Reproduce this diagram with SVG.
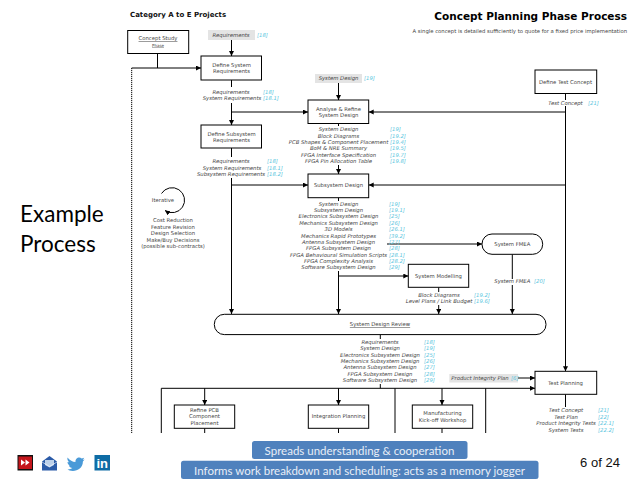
<svg xmlns="http://www.w3.org/2000/svg" width="638" height="479" viewBox="0 0 638 479">
<style>
text{font-family:"DejaVu Sans",Verdana,sans-serif;font-size:5.3px;fill:#444}
.m{text-anchor:middle}
.i{font-style:italic;text-anchor:middle}
.c{font-style:italic;fill:#5cc6de}
.b{fill:#fff;stroke:#000;stroke-width:1}
.g{fill:#e4e4e4}
.l{fill:none;stroke:#000;stroke-width:1}
.a{fill:none;stroke:#000;stroke-width:1;marker-end:url(#ah)}
.d{fill:none;stroke:#000;stroke-width:1;stroke-dasharray:1.2 .8}
.bar{fill:#4f81bd}
.t{font-family:"Lato","Open Sans",sans-serif;font-size:11.5px;fill:#e8eef7;text-anchor:middle}
</style>
<defs><marker id="ah" markerUnits="userSpaceOnUse" markerWidth="6" markerHeight="6" refX="5" refY="2.5" orient="auto"><path d="M0 0L5 2.5L0 5z" fill="#000"/></marker></defs>
<rect width="638" height="479" fill="#fff"/>
<text x="130" y="17" style="font-size:7px;font-weight:bold;fill:#111">Category A to E Projects</text>
<text x="627" y="20" text-anchor="end" style="font-size:10.5px;font-weight:bold;fill:#000">Concept Planning Phase Process</text>
<text x="627" y="33" text-anchor="end" style="font-size:5.3px">A single concept is detailed sufficiently to quote for a fixed price implementation</text>
<text x="20" y="222" style="font-family:Lato,sans-serif;font-size:22.500px;fill:#000">Example</text>
<text x="20" y="252" style="font-family:Lato,sans-serif;font-size:22.500px;fill:#000">Process</text>

<g id="connectors">
<path class="l" d="M157.500 53.500V68"/>
<path class="a" d="M131.700 68H201"/>
<path class="d" d="M131.700 68V433"/>
<path class="a" d="M231.500 40V56"/>
<path class="l" d="M231.500 80V87"/>
<path class="a" d="M231.500 103V125"/>
<path class="a" d="M231.500 112H308"/>
<path class="l" d="M231.500 148V157"/>
<path class="a" d="M231.500 178V314"/>
<path class="a" d="M231.500 185H308"/>
<path class="a" d="M338.500 83V100"/>
<path class="l" d="M338.500 123.500V126"/>
<path class="a" d="M338.500 165V174"/>
<path class="l" d="M338.500 197.700V201"/>
<path class="a" d="M338.500 271V314"/>
<path class="a" d="M338.500 276H408.300"/>
<path class="a" d="M387 244H482"/>
<path class="l" d="M438.700 287.300V292"/>
<path class="a" d="M438.700 305V314"/>
<path class="l" d="M512.300 254.300V279"/>
<path class="a" d="M512.300 285V314"/>
<path class="l" d="M565.500 93.500V100"/>
<path class="a" d="M565.500 106V371.300"/>
<path class="a" d="M565.500 112H368.700"/>
<path class="a" d="M565.500 185H368.700"/>
<path class="l" d="M380.300 334.600V339"/>
<path class="l" d="M380.300 384V388.300"/>
<path class="a" d="M161.300 388.300H535"/>
<path class="l" d="M161.300 388.300V433"/>
<path class="l" d="M395 388.300V433"/>
<path class="l" d="M485.700 388.300V433"/>
<path class="a" d="M204.700 388.300V405"/>
<path class="a" d="M338.500 388.300V405"/>
<path class="a" d="M442 388.300V405"/>
<path class="l" d="M204.700 428.300V433"/>
<path class="l" d="M338.500 428.300V433"/>
<path class="l" d="M442 428.300V433"/>
<path class="l" d="M565.500 394.300V407"/>
<path class="a" d="M518 378H535"/>
</g>

<g id="concept-study"><rect class="b" x="127.700" y="30.500" width="61" height="23"/><text class="m" x="158" y="40" style="text-decoration:underline">Concept Study</text><text class="m" x="158" y="46.500" style="font-size:4px;text-decoration:underline">Phase</text></g>
<g id="requirements-in"><rect class="g" x="208" y="30" width="47" height="10"/><text class="i" x="231" y="37">Requirements</text><text class="c" x="257" y="37">[18]</text></g>
<g id="define-system"><rect class="b" x="201" y="56" width="60.500" height="24"/><text class="m" x="231.500" y="67">Define System</text><text class="m" x="231.500" y="73">Requirements</text></g>
<g id="define-subsystem"><rect class="b" x="201" y="125" width="60.500" height="23"/><text class="m" x="231.500" y="135.500">Define Subsystem</text><text class="m" x="231.500" y="142">Requirements</text></g>
<g id="system-design-in"><rect class="g" x="315" y="74" width="47" height="9"/><text class="i" x="338.500" y="80">System Design</text><text class="c" x="364" y="80">[19]</text></g>
<g id="analyse"><rect class="b" x="308" y="100" width="60.700" height="23.500"/><text class="m" x="338.500" y="110.500">Analyse &amp; Refine</text><text class="m" x="338.500" y="117">System Design</text></g>
<g id="subsystem-design"><rect class="b" x="308" y="174" width="60.700" height="23.700"/><text class="m" x="338.500" y="187">Subsystem Design</text></g>
<g id="test-concept"><rect class="b" x="535" y="70" width="61.700" height="23.500"/><text class="m" x="565.500" y="83.500">Define Test Concept</text></g>
<g id="system-fmea"><rect class="b" x="482" y="234" width="60.700" height="20.300" rx="10"/><text class="m" x="512.300" y="245.800">System FMEA</text></g>
<g id="system-modelling"><rect class="b" x="408.300" y="264.300" width="60.400" height="23"/><text class="m" x="438.500" y="277.500">System Modelling</text></g>
<g id="review"><rect class="b" x="214.300" y="314.300" width="331.700" height="20.300" rx="10"/><text class="m" x="380" y="326" style="text-decoration:underline">System Design Review</text></g>
<g id="test-planning"><rect class="b" x="535" y="371.300" width="61.700" height="23"/><text class="m" x="565.500" y="384.500">Test Planning</text></g>
<g id="product-integrity"><rect class="g" x="449.300" y="374" width="68.700" height="8.500"/><text class="i" x="480" y="380">Product Integrity Plan</text><text class="c" x="511" y="380">[6]</text></g>
<g id="refine-pcb"><rect class="b" x="174.300" y="405" width="60.400" height="23.300"/><text class="m" x="204.500" y="411.500">Refine PCB</text><text class="m" x="204.500" y="418">Component</text><text class="m" x="204.500" y="425">Placement</text></g>
<g id="integration"><rect class="b" x="308.300" y="405" width="60.400" height="23.300"/><text class="m" x="338.500" y="418">Integration Planning</text></g>
<g id="manufacturing"><rect class="b" x="412.300" y="405" width="60.400" height="23.300"/><text class="m" x="442.500" y="414.500">Manufacturing</text><text class="m" x="442.500" y="421.500">Kick-off Workshop</text></g>

<g id="labels">
<text class="i" x="231" y="94">Requirements</text><text class="c" x="263" y="94">[18]</text>
<text class="i" x="232" y="100">System Requirements</text><text class="c" x="263" y="100">[18.1]</text>
<text class="i" x="231" y="163">Requirements</text><text class="c" x="267" y="163">[18]</text>
<text class="i" x="232" y="170">System Requirements</text><text class="c" x="267" y="170">[18.1]</text>
<text class="i" x="231" y="176">Subsystem Requirements</text><text class="c" x="267" y="176">[18.2]</text>
<text class="i" x="338.500" y="131">System Design</text><text class="c" x="390" y="131">[19]</text>
<text class="i" x="338.500" y="138">Block Diagrams</text><text class="c" x="390" y="138">[19.2]</text>
<text class="i" x="338.500" y="144">PCB Shapes &amp; Component Placement</text><text class="c" x="390" y="144">[19.4]</text>
<text class="i" x="338.500" y="150">BoM &amp; NRE Summary</text><text class="c" x="390" y="150">[19.5]</text>
<text class="i" x="338.500" y="157">FPGA Interface Specification</text><text class="c" x="390" y="157">[19.7]</text>
<text class="i" x="338.500" y="163">FPGA Pin Allocation Table</text><text class="c" x="390" y="163">[19.8]</text>
<text class="i" x="565.500" y="105">Test Concept</text><text class="c" x="588" y="105">[21]</text>
<text class="i" x="338.500" y="206">System Design</text><text class="c" x="389" y="206">[19]</text>
<text class="i" x="338.500" y="212">Subsystem Design</text><text class="c" x="389" y="212">[19.1]</text>
<text class="i" x="338.500" y="218">Electronics Subsystem Design</text><text class="c" x="389" y="218">[25]</text>
<text class="i" x="338.500" y="225">Mechanics Subsystem Design</text><text class="c" x="389" y="225">[26]</text>
<text class="i" x="338.500" y="231">3D Models</text><text class="c" x="389" y="231">[26.1]</text>
<text class="i" x="338.500" y="238">Mechanics Rapid Prototypes</text><text class="c" x="389" y="238">[39.2]</text>
<text class="i" x="338.500" y="244">Antenna Subsystem Design</text><text class="c" x="389" y="244">[27]</text>
<text class="i" x="338.500" y="250">FPGA Subsystem Design</text><text class="c" x="389" y="250">[28]</text>
<text class="i" x="338.500" y="257">FPGA Behavioural Simulation Scripts</text><text class="c" x="389" y="257">[28.1]</text>
<text class="i" x="338.500" y="263">FPGA Complexity Analysis</text><text class="c" x="389" y="263">[28.2]</text>
<text class="i" x="338.500" y="269">Software Subsystem Design</text><text class="c" x="389" y="269">[29]</text>
<text class="i" x="439" y="297">Block Diagrams</text><text class="c" x="474" y="297">[19.2]</text>
<text class="i" x="439" y="303">Level Plans / Link Budget</text><text class="c" x="474" y="303">[19.6]</text>
<text class="i" x="512.300" y="283">System FMEA</text><text class="c" x="534" y="283">[20]</text>
<text class="i" x="380" y="344">Requirements</text><text class="c" x="424" y="344">[18]</text>
<text class="i" x="380" y="350">System Design</text><text class="c" x="424" y="350">[19]</text>
<text class="i" x="380" y="357">Electronics Subsystem Design</text><text class="c" x="424" y="357">[25]</text>
<text class="i" x="380" y="363">Mechanics Subsystem Design</text><text class="c" x="424" y="363">[26]</text>
<text class="i" x="380" y="369">Antenna Subsystem Design</text><text class="c" x="424" y="369">[27]</text>
<text class="i" x="380" y="376">FPGA Subsystem Design</text><text class="c" x="424" y="376">[28]</text>
<text class="i" x="380" y="382">Software Subsystem Design</text><text class="c" x="424" y="382">[29]</text>
<text class="i" x="566" y="412">Test Concept</text><text class="c" x="598" y="412">[21]</text>
<text class="i" x="566" y="419">Test Plan</text><text class="c" x="598" y="419">[22]</text>
<text class="i" x="566" y="425">Product Integrity Tests</text><text class="c" x="598" y="425">[22.1]</text>
<text class="i" x="566" y="432">System Tests</text><text class="c" x="598" y="432">[22.2]</text>
</g>

<g id="iterative">
<path class="a" d="M161.500 193.500A12.500 12.500 0 1 1 165 210.500"/>
<text class="m" x="163" y="202">Iterative</text>
<text class="m" x="173" y="222">Cost Reduction</text>
<text class="m" x="173" y="228.500">Feature Revision</text>
<text class="m" x="173" y="235">Design Selection</text>
<text class="m" x="173" y="242">Make/Buy Decisions</text>
<text class="m" x="173" y="248">(possible sub-contracts)</text>
</g>

<g id="bars">
<rect class="bar" x="252" y="441" width="215.500" height="18" rx="2.500"/>
<text class="t" x="359.500" y="454.500">Spreads understanding &amp; cooperation</text>
<rect class="bar" x="181" y="460.700" width="357.500" height="18.300" rx="2.500"/>
<text class="t" x="359.500" y="474.500">Informs work breakdown and scheduling: acts as a memory jogger</text>
</g>
<text x="600" y="467" text-anchor="middle" style="font-family:'Liberation Sans',Arial,sans-serif;font-size:13px;fill:#111">6 of 24</text>

<g id="icons">
<rect x="17.500" y="455" width="15.500" height="15.500" fill="#111"/><rect x="18.500" y="456.500" width="13.500" height="12.500" fill="#c4161c"/>
<path d="M21 459.500l4 3-4 3zM25.500 459.500l4 3-4 3z" fill="#fff"/>
<path d="M42 461.500l7.500-5.500 7.500 5.500V470.500H42z" fill="#2b5ba8"/><path d="M45 460h9v5l-4.500 2.500L45 465z" fill="#bcd0ea"/><path d="M42 462l7.500 4.500L57 462" fill="none" stroke="#fff" stroke-width=".6"/>
<path d="M67.500 457.500c2.500 3 5 4.300 8 4.500-.5-3.500 3.500-6 6.200-3.500l2.500-.8-1.400 2.200 1.800-.4-1.700 1.900c0 6-5 9.500-10 9.500-2.700 0-4.200-.6-5.400-1.400 2 .1 3.600-.4 4.900-1.400-1.800-.1-3-1-3.500-2.500h1.600c-2-.5-3-2-3-3.700l1.600.4c-1.700-1.500-1.900-3.400-1.600-4.800z" fill="#4a9ad8"/>
<rect x="94.500" y="455" width="15.500" height="15.500" fill="#0e6ca5"/><text x="96.500" y="468" style="font-family:'Liberation Sans',sans-serif;font-weight:bold;font-size:13px;fill:#fff">in</text>
</g>
</svg>
